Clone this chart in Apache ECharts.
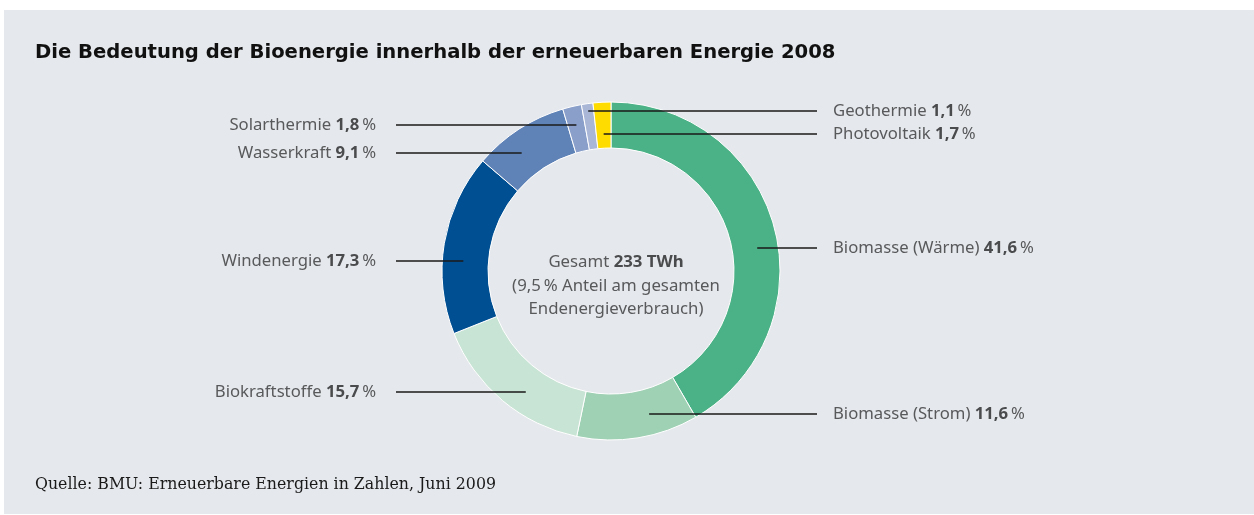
<!DOCTYPE html>
<html>
<head>
<meta charset="utf-8">
<script src="https://cdn.jsdelivr.net/npm/echarts@6/dist/echarts.min.js"></script>
<style>
  html, body { margin: 0; padding: 0; background: #fff; }
  #chart { width: 1254px; height: 515px; }
</style>
</head>
<body>
<div id="chart"></div>
<script>
// Daten (Anteile in %)
var names = ['Biomasse (Wärme)', 'Biomasse (Strom)', 'Biokraftstoffe', 'Windenergie',
             'Wasserkraft', 'Solarthermie', 'Geothermie', 'Photovoltaik'];
var shares = [41.6, 11.6, 15.7, 17.3, 9.1, 1.8, 1.1, 1.7];
var colors = ['#4bb186', '#9fd1b5', '#c8e4d4', '#004f92', '#6083b7', '#8a9fc9', '#a9b6d6', '#ffdc00'];

// Beschriftung: Position der Zeilen
var labelY = [248, 414, 392, 261, 153, 125, 111, 134];
var labelSide = ['r', 'r', 'l', 'l', 'l', 'l', 'r', 'r'];

var cx = 611, cy = 271, rIn = 123, rOut = 169, rMid = 148;
var total = shares.reduce(function (a, b) { return a + b; }, 0);

function fmt(v) {
    return String(v).replace('.', ',');
}

// Endpunkt der Hinweislinie im Ring
function lineEnd(i) {
    var y = labelY[i];
    var dy = y - cy;
    if (shares[i] < 3) {
        var cum = 0;
        for (var k = 0; k < i; k++) cum += shares[k];
        var a = (cum + shares[i] / 2) / total * Math.PI * 2;
        var r = -dy / Math.cos(a);
        return [cx + r * Math.sin(a), y];
    }
    var dx = Math.sqrt(Math.max(rMid * rMid - dy * dy, 0));
    return [labelSide[i] === 'r' ? cx + dx : cx - dx, y];
}

var myChart = echarts.init(document.getElementById('chart'));

var pieData = names.map(function (n, i) {
    return { name: n, value: shares[i], itemStyle: { color: colors[i] } };
});

var option = {
    backgroundColor: '#ffffff',
    animation: false,
    title: {
        text: 'Die Bedeutung der Bioenergie innerhalb der erneuerbaren Energie 2008',
        left: 30,
        top: 38,
        textStyle: {
            fontFamily: 'DejaVu Sans',
            fontWeight: 'bold',
            fontSize: 19.6,
            color: '#111111'
        }
    },
    graphic: [
        {
            type: 'rect',
            z: -10,
            shape: { x: 4, y: 10, width: 1250, height: 504 },
            style: { fill: '#e5e8ec' }
        },
        {
            type: 'text',
            x: 616,
            y: 286,
            style: {
                text: '{n|Gesamt }{b|233 TWh}\n{n|(9,5\u2009% Anteil am gesamten}\n{n|Endenergieverbrauch)}',
                align: 'center',
                verticalAlign: 'middle',
                rich: {
                    n: { fontFamily: 'Noto Sans', fontSize: 16.8, fill: '#58595b', lineHeight: 23.5 },
                    b: { fontFamily: 'Noto Sans', fontSize: 16.8, fontWeight: 'bold', fill: '#4a4b4d', lineHeight: 23.5 }
                }
            }
        },
        {
            type: 'text',
            left: 35,
            top: 477,
            style: {
                text: 'Quelle: BMU: Erneuerbare Energien in Zahlen, Juni 2009',
                fontFamily: 'DejaVu Serif',
                fontSize: 15.8,
                fill: '#1a1a1a'
            }
        }
    ],
    series: [
        {
            // Ring
            type: 'pie',
            z: 2,
            center: [cx, cy],
            radius: [rIn, rOut],
            startAngle: 90,
            clockwise: true,
            data: pieData,
            itemStyle: { borderColor: '#ffffff', borderWidth: 1 },
            emphasis: { disabled: true },
            label: { show: false },
            labelLine: { show: false }
        },
        {
            // Beschriftungen und Linien über dem Ring
            type: 'pie',
            z: 5,
            silent: true,
            center: [cx, cy],
            radius: [rIn, rOut],
            startAngle: 90,
            clockwise: true,
            data: names.map(function (n, i) { return { name: n, value: shares[i] }; }),
            itemStyle: { color: 'rgba(0,0,0,0)', borderWidth: 0 },
            emphasis: { disabled: true },
            label: {
                show: true,
                position: 'outside',
                formatter: function (p) {
                    return '{n|' + p.name + ' }{b|' + fmt(p.value) + '}{n|\u2009%}';
                },
                rich: {
                    n: { fontFamily: 'Noto Sans', fontSize: 16.7, color: '#58595b' },
                    b: { fontFamily: 'Noto Sans', fontSize: 16.7, fontWeight: 'bold', color: '#4a4b4d' }
                }
            },
            labelLine: {
                show: true,
                lineStyle: { color: '#1a1a1a', width: 1.4 }
            },
            labelLayout: function (params) {
                var i = params.dataIndex;
                var y = labelY[i];
                var e = lineEnd(i);
                if (labelSide[i] === 'r') {
                    return {
                        x: 833, y: y, align: 'left', verticalAlign: 'middle',
                        labelLinePoints: [e, [(e[0] + 817) / 2, y], [817, y]]
                    };
                }
                return {
                    x: 376, y: y, align: 'right', verticalAlign: 'middle',
                    labelLinePoints: [e, [(e[0] + 396) / 2, y], [396, y]]
                };
            }
        }
    ]
};

myChart.setOption(option);
</script>
</body>
</html>
